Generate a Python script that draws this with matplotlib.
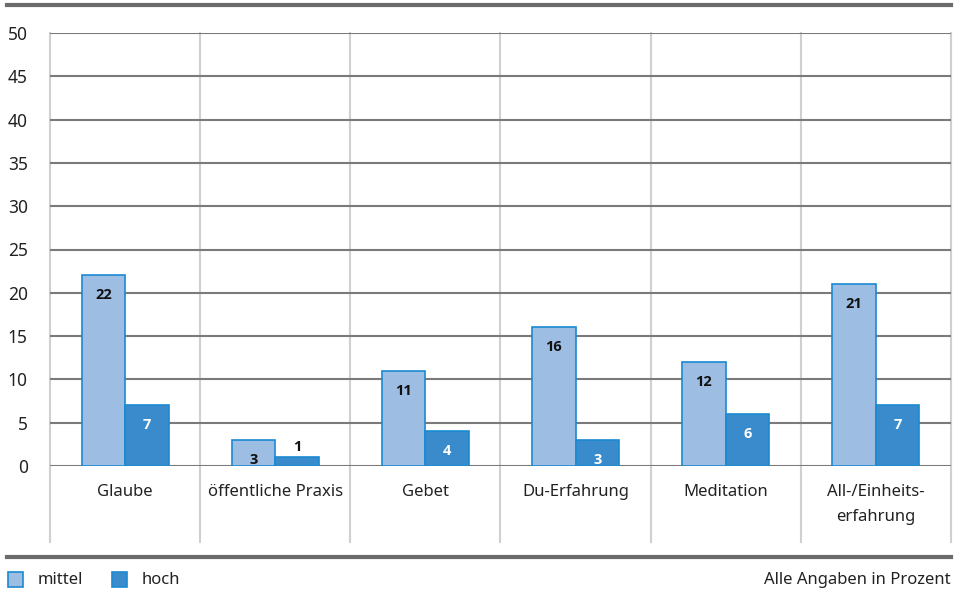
import numpy as np
import matplotlib
matplotlib.use("Agg")
from matplotlib import pyplot as plt
from matplotlib.lines import Line2D
from matplotlib.patches import Rectangle

plt.rcParams['font.family'] = ['Noto Sans', 'DejaVu Sans']

# data
categories = ["Glaube", "öffentliche Praxis", "Gebet", "Du-Erfahrung", "Meditation", "All-/Einheits-\nerfahrung"]
mittel = [22, 3, 11, 16, 12, 21]
hoch = [7, 1, 4, 3, 6, 7]
yticks = [0, 5, 10, 15, 20, 25, 30, 35, 40, 45, 50]

c_mittel = "#9dbde3"
c_hoch = "#3a8bcb"
c_edge = "#1a8ad2"
bold_font = ['Open Sans', 'Roboto', 'DejaVu Sans']

W, H = 959, 599
fig = plt.figure(figsize=(W / 100, H / 100), dpi=100)
ax = fig.add_axes([50 / W, 1 - 466 / H, 901 / W, 433 / H])

x = np.arange(len(categories))
bw = 0.29
ax.bar(x - bw / 2, mittel, bw, color=c_mittel, edgecolor=c_edge, linewidth=1.2, zorder=3)
ax.bar(x + bw / 2, hoch, bw, color=c_hoch, edgecolor=c_edge, linewidth=1.2, zorder=3)

# value labels
for i in range(len(categories)):
    ax.text(x[i] - bw / 2, mittel[i] - 2.3, str(mittel[i]), ha="center", va="center",
            fontsize=10.5, fontweight="bold", family=bold_font, color="#111111", zorder=4)
    if hoch[i] >= 2:
        ax.text(x[i] + bw / 2, hoch[i] - 2.3, str(hoch[i]), ha="center", va="center",
                fontsize=10.5, fontweight="bold", family=bold_font, color="white", zorder=4)
    else:
        ax.text(x[i] + bw / 2, hoch[i] + 1.2, str(hoch[i]), ha="center", va="center",
                fontsize=10.5, fontweight="bold", family=bold_font, color="#111111", zorder=4)

ax.set_xlim(-0.5, len(categories) - 0.5)
ax.set_ylim(0, 50)
ax.set_yticks(yticks)
ax.set_yticklabels([str(t) for t in yticks], fontsize=12.5, color="#222222")
ax.tick_params(axis="y", length=0, pad=16)
ax.set_xticks(x)
ax.set_xticklabels(categories, fontsize=12, color="#222222", linespacing=1.75)
ax.tick_params(axis="x", length=0, pad=13)

for s in ax.spines.values():
    s.set_visible(False)

# horizontal grid
for t in yticks:
    ax.axhline(t, color="#7a7a7a", linewidth=1.5, zorder=1)

# vertical separators, reaching below the axis
for b in np.arange(-0.5, len(categories), 1.0):
    ax.add_line(Line2D([b, b], [50, -8.8], color="#d0d0d0", linewidth=1.5,
                       zorder=0, clip_on=False))

# top and bottom rules
fig.add_artist(Line2D([7 / W, 951 / W], [1 - 5 / H, 1 - 5 / H], color="#6b6b6b", linewidth=3))
fig.add_artist(Line2D([7 / W, 951 / W], [1 - 557 / H, 1 - 557 / H], color="#6b6b6b", linewidth=3))

# legend
for px, lab, col in [(8, "mittel", c_mittel), (112, "hoch", c_hoch)]:
    fig.add_artist(Rectangle((px / W, 1 - 587 / H), 15 / W, 15 / H, facecolor=col,
                             edgecolor=c_edge, linewidth=1.2, transform=fig.transFigure))
    fig.text((px + 30) / W, 1 - 580 / H, lab, fontsize=12, va="center", ha="left", color="#222222")

fig.text(951 / W, 1 - 580 / H, "Alle Angaben in Prozent", fontsize=12, va="center", ha="right", color="#222222")

fig.savefig("out.png", dpi=100)
